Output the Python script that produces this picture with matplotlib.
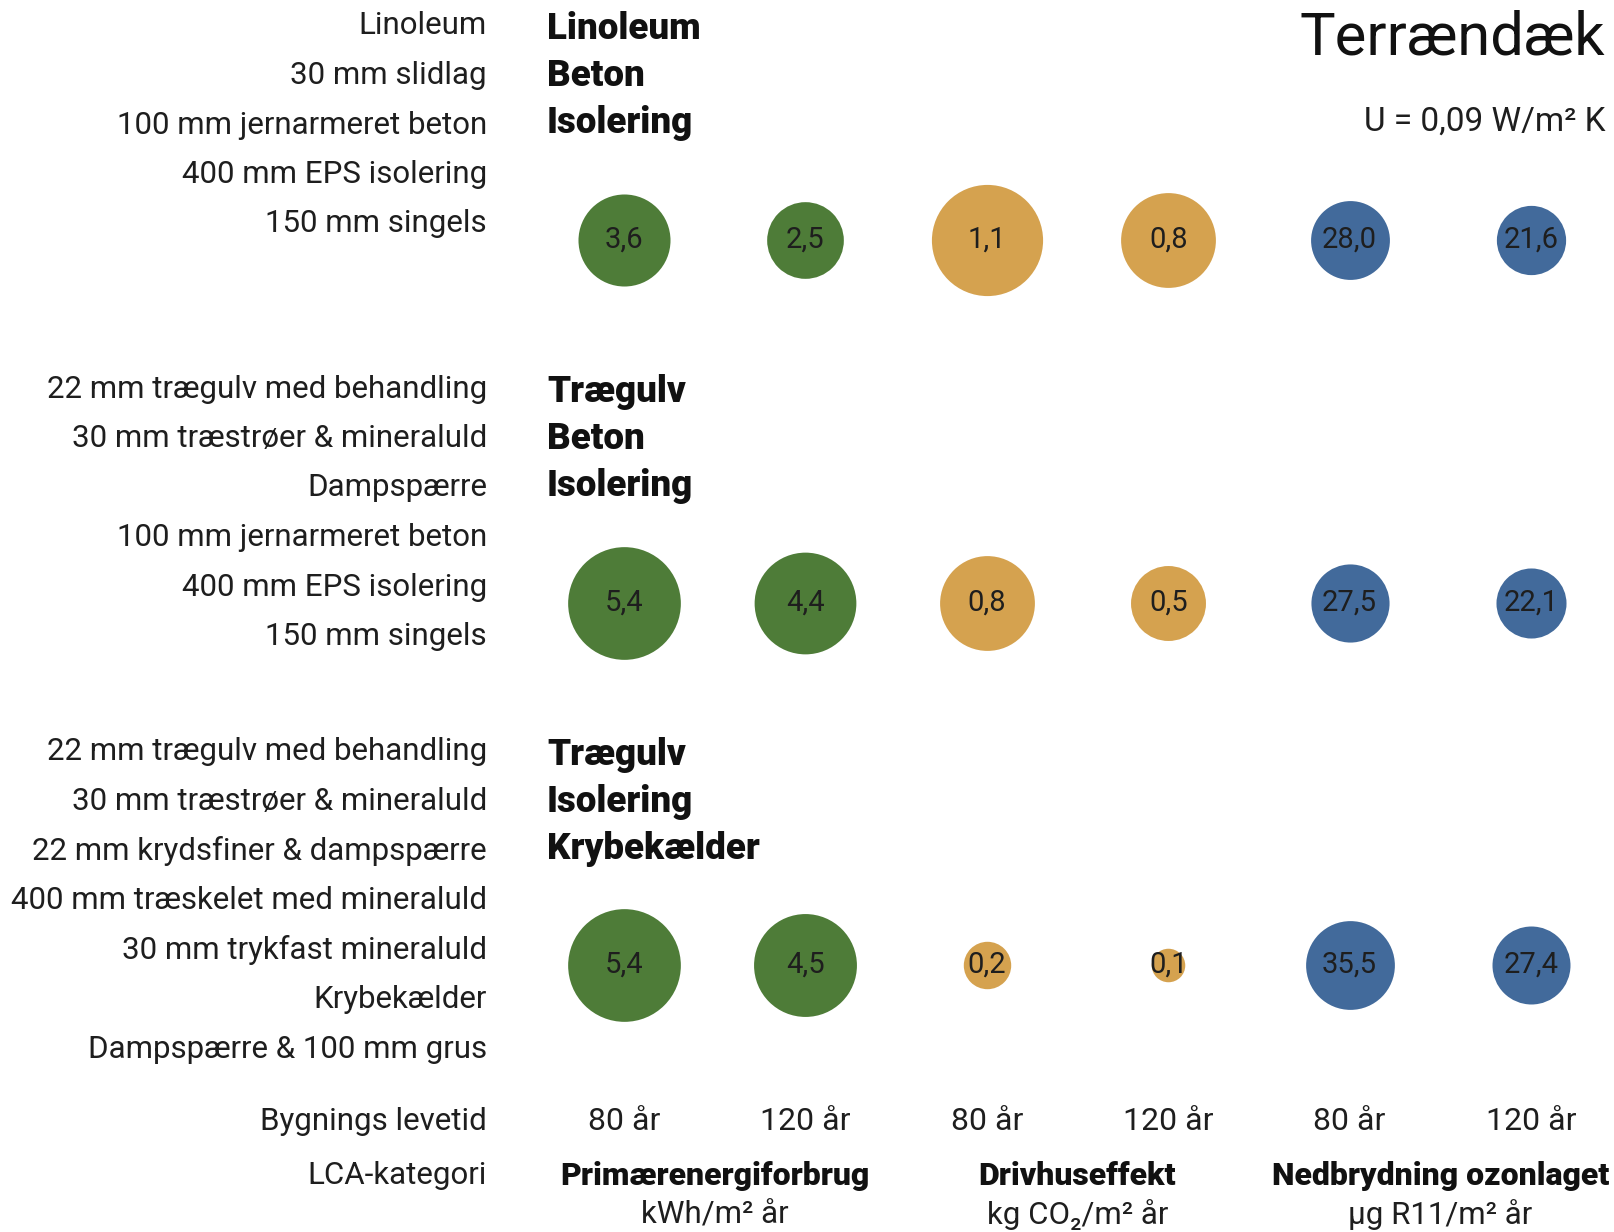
import matplotlib.pyplot as plt
import matplotlib.transforms as mtransforms
import numpy as np

plt.rcParams['font.family'] = ['Roboto', 'DejaVu Sans']

# data
layer_labels = [
    ['Linoleum', '30 mm slidlag', '100 mm jernarmeret beton',
     '400 mm EPS isolering', '150 mm singels'],
    ['22 mm trægulv med behandling', '30 mm træstrøer & mineraluld', 'Dampspærre',
     '100 mm jernarmeret beton', '400 mm EPS isolering', '150 mm singels'],
    ['22 mm trægulv med behandling', '30 mm træstrøer & mineraluld',
     '22 mm krydsfiner & dampspærre', '400 mm træskelet med mineraluld',
     '30 mm trykfast mineraluld', 'Krybekælder', 'Dampspærre & 100 mm grus'],
]
construction = [
    ['Linoleum', 'Beton', 'Isolering'],
    ['Trægulv', 'Beton', 'Isolering'],
    ['Trægulv', 'Isolering', 'Krybekælder'],
]
primary_energy = [[3.6, 2.5], [5.4, 4.4], [5.4, 4.5]]   # kWh/m2 år
greenhouse = [[1.1, 0.8], [0.8, 0.5], [0.2, 0.1]]       # kg CO2/m2 år
ozone = [[28.0, 21.6], [27.5, 22.1], [35.5, 27.4]]      # µg R11/m2 år
lifetimes = ['80 år', '120 år']
categories = ['Primærenergiforbrug', 'Drivhuseffekt', 'Nedbrydning ozonlaget']
units = ['kWh/m² år', 'kg CO₂/m² år', 'µg R11/m² år']
colors = ['#4e7c38', '#d5a24f', '#426a9b']
px_per_sqrt = [48.5, 106, 14.9]   # bubble diameter scale per category

W, H = 1614, 1232
fig = plt.figure(figsize=(W / 100, H / 100), dpi=100)

# text layer in pixel coordinates
bg = fig.add_axes([0, 0, 1, 1])
bg.set_xlim(0, W)
bg.set_ylim(H, 0)
bg.axis('off')

# bubble layer: columns 0..5, rows 0..2
ax = fig.add_axes([533.3 / W, 1 - 1146.25 / H, 1088.4 / W, 1087.5 / H])
ax.set_xlim(-0.5, 5.5)
ax.set_ylim(2.5, -0.5)
ax.axis('off')

txt = '#1e1e1e'
series = [primary_energy, greenhouse, ozone]
for c, vals in enumerate(series):
    for r in range(3):
        for k in range(2):
            v = vals[r][k]
            col = c * 2 + k
            d = px_per_sqrt[c] * np.sqrt(v) * 0.72
            ax.scatter(col, r, s=d ** 2, color=colors[c], linewidths=0, zorder=2)
            ax.text(col, r, f'{v:.1f}'.replace('.', ','), ha='center', va='center',
                    fontsize=21, color=txt, zorder=3)

# left-hand layer labels and bold construction headers
group_top = [26, 389, 752]
step = 49.5
for g in range(3):
    for i, lab in enumerate(layer_labels[g]):
        bg.text(487, group_top[g] + i * step, lab, ha='right', va='center',
                fontsize=22.5, color=txt)
    for i, lab in enumerate(construction[g]):
        bg.text(547, group_top[g] + 3 + i * 47, lab, ha='left', va='center',
                fontsize=26.5, fontweight='black', color='#111111')

# title
bg.text(1605, 38, 'Terrændæk', ha='right', va='center', fontsize=43,
        color='#111111')
bg.text(1605, 122, 'U = 0,09 W/m² K', ha='right', va='center', fontsize=24,
        color=txt)

# bottom axis labels
bg.text(487, 1122, 'Bygnings levetid', ha='right', va='center', fontsize=22.5,
        color=txt)
bg.text(487, 1176, 'LCA-kategori', ha='right', va='center', fontsize=22.5,
        color=txt)

# x in column units, y in pixels
tr = mtransforms.blended_transform_factory(ax.transData, bg.transData)
for col in range(6):
    ax.text(col, 1122, lifetimes[col % 2], transform=tr,
            ha='center', va='center', fontsize=23, color=txt)
for c in range(3):
    xc = c * 2 + 0.5
    ax.text(xc, 1176, categories[c], transform=tr, ha='center', va='center',
            fontsize=23, fontweight='black', color='#111111')
    ax.text(xc, 1215, units[c], transform=tr, ha='center', va='center',
            fontsize=22.5, color=txt)

fig.savefig('out.png', dpi=100)
